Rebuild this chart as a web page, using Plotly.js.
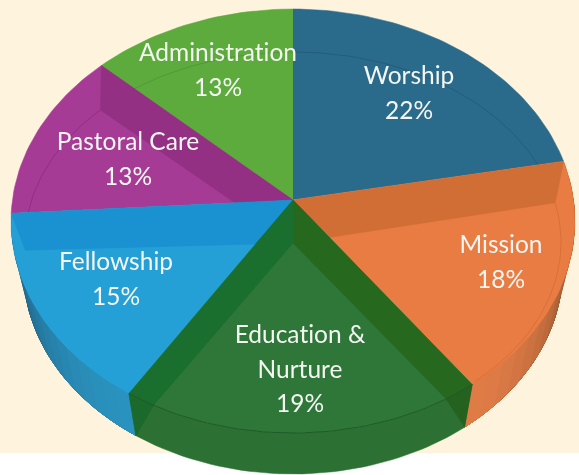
<!DOCTYPE html>
<html>
<head>
<meta charset="utf-8">
<script src="https://cdn.plot.ly/plotly-3.0.1.min.js"></script>
<style>html,body{margin:0;padding:0;background:#fff}#c{width:579px;height:475px;filter:blur(0.45px)}
text{font-variant-ligatures:none;font-feature-settings:"liga" 0}</style>
</head>
<body>
<div id="c"></div>
<script>
// Data, clockwise from 12 o'clock
var categories = ['Worship','Mission','Education & Nurture','Fellowship','Pastoral Care','Administration'];
var shares = [22,18,19,15,13,13];
var labelLines = [['Worship'],['Mission'],['Education &','Nurture'],['Fellowship'],['Pastoral Care'],['Administration']];

var faceColors = ['#2a6b8b','#e97c42','#2e7739','#24a0d6','#a63b96','#5dab3c'];
var bandColors = [null,'#d06e36','#1a6f2e','#1a91d1','#933083',null];
var arcColors  = ['#235d7b','#d9703a',null,null,'#8f2f82','#52993a'];

// Projected disc geometry (perspective view of a cylinder)
var topRim = {cx:293,cy:221,rx:282,ry:212,a:0.099};
var lowRim = {cx:293,cy:269,rx:270,ry:205,a:0.099};
var inner  = {cx:293,cy:242,rx:268,ry:190,a:0.02};
var innerFront = {cx:293,cy:242,rx:268,ry:190,a:-0.04};
var labelAnchor = [[409,78],[501,247],[300,337],[116,264],[128,144],[218,55]];
var lineGap = 34.5;

function proj(g,deg){
  var t=deg*Math.PI/180,u=Math.sin(t),v=Math.cos(t),d=1+g.a*v;
  return [g.cx+g.rx*u*Math.sqrt(1-g.a*g.a)/d, g.cy-g.ry*(v+g.a)/d];
}
function arc(g,a0,a1){var p=[],n=Math.max(2,Math.ceil(Math.abs(a1-a0)/1.5));
  for(var i=0;i<=n;i++)p.push(proj(g,a0+(a1-a0)*i/n));return p;}
var apex=[topRim.cx,topRim.cy-topRim.ry*topRim.a];
var apexLow=[inner.cx,inner.cy+1];

var total=shares.reduce(function(s,v){return s+v},0), bounds=[0];
shares.forEach(function(v){bounds.push(bounds[bounds.length-1]+v/total*360)});

var traces=[];
function poly(pts,color,w){traces.push({type:'scatter',mode:'lines',x:pts.map(function(p){return p[0]}),
  y:pts.map(function(p){return p[1]}),fill:'toself',fillcolor:color,line:{color:color,width:w===undefined?0.5:w},hoverinfo:'skip',showlegend:false});}
function line(pts,color,w){traces.push({type:'scatter',mode:'lines',x:pts.map(function(p){return p[0]}),
  y:pts.map(function(p){return p[1]}),line:{color:color,width:w||1},hoverinfo:'skip',showlegend:false});}
function mix(c1,c2,f){var r=[];for(var i=0;i<3;i++)r.push(Math.round(c1[i]+(c2[i]-c1[i])*f));return 'rgb('+r.join(',')+')';}
// gradient wall: strips painted from the far end back, each one overlapping the next
function wall(a0,a1,c0,c1,power){var n=16;for(var i=n-1;i>=0;i--){
  var e=a0+(a1-a0)*(i+1)/n;
  poly(arc(topRim,a0,e).concat(arc(lowRim,e,a0)),mix(c0,c1,Math.pow((i+0.5)/n,power)),0);}}

// side walls
wall(bounds[2],bounds[1],[224,124,70],[70,45,25],1.6);
wall(bounds[3],bounds[4],[42,146,190],[26,70,100],1.8);
poly(arc(topRim,bounds[2],bounds[3]).concat(arc(lowRim,bounds[3],bounds[2])),'#2d7033');

function face(i){poly([apex].concat(arc(topRim,bounds[i],bounds[i+1])),faceColors[i]);}
function band(b,color,g){var r=proj(topRim,b),q=proj(g||inner,b);poly([apex,r,q,apexLow],color);}
function innerArc(i,a0,a1){line(arc(inner,a0,a1),arcColors[i],1);}

// order keeps each radial band inside its own wedge
face(0); innerArc(0,bounds[0],bounds[1]);
face(5); innerArc(5,bounds[5],bounds[6]);
face(1); band(bounds[1],bandColors[1]); innerArc(1,bounds[1],bounds[2]-6);
face(4); band(bounds[5],bandColors[4]); innerArc(4,bounds[4],bounds[5]);
face(3); band(bounds[4],bandColors[3]);
face(2);
band(bounds[2],'#27681f',innerFront); band(bounds[3],bandColors[2],innerFront);
// dark corners where the radial walls meet the rim
poly([proj(topRim,bounds[2]),proj(lowRim,bounds[2]),proj(innerFront,bounds[2])],'#25621f');
poly([proj(topRim,bounds[3]),proj(lowRim,bounds[3]),proj(innerFront,bounds[3])],'#1b6a2c');
line(arc(topRim,bounds[2],bounds[3]),'#1f5a29',1);

// labels
var tx=[],ty=[],tt=[];
categories.forEach(function(c,i){
  var a=labelAnchor[i],L=labelLines[i];
  L.forEach(function(s,k){tx.push(a[0]);ty.push(a[1]+k*lineGap);tt.push(s);});
  tx.push(a[0]);ty.push(a[1]+L.length*lineGap);tt.push(shares[i]+'%');
});
traces.push({type:'scatter',mode:'text',x:tx,y:ty,text:tt,textposition:'middle center',
  textfont:{family:'Lato, sans-serif',size:24.5,color:'#f4f6f2'},hoverinfo:'skip',showlegend:false,cliponaxis:false});

Plotly.newPlot('c',traces,{
  width:579,height:475,margin:{l:0,r:0,t:0,b:0},showlegend:false,
  paper_bgcolor:'#ffffff',plot_bgcolor:'rgba(0,0,0,0)',
  xaxis:{range:[0,579],visible:false,fixedrange:true},
  yaxis:{range:[475,0],visible:false,fixedrange:true},
  shapes:[{type:'rect',layer:'below',xref:'x',yref:'y',x0:0,x1:579,y0:0,y1:453,fillcolor:'#fef4de',line:{width:0}}]
},{displayModeBar:false,staticPlot:true});
</script>
</body>
</html>
